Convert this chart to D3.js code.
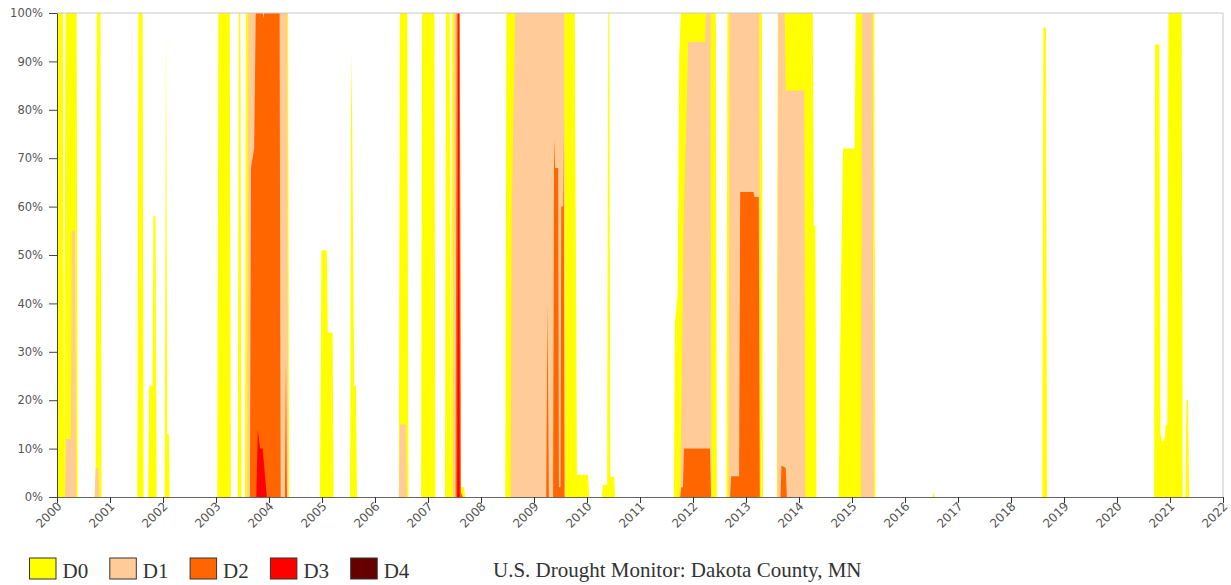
<!DOCTYPE html>
<html>
<head>
<meta charset="utf-8">
<script src="https://cdn.jsdelivr.net/npm/d3@7"></script>
<style>
  html, body { margin: 0; padding: 0; background: #fff; }
  svg { display: block; }
</style>
</head>
<body>
<svg id="chart" width="1231" height="585"></svg>
<script>
// ---------------- DATA (percent of county area, cumulative categories) ----------------
const categories = ["D0", "D1", "D2", "D3", "D4"];
const colors = ["#FFFF00", "#FFCC99", "#FF6600", "#FF0000", "#660000"];
const yearTicks = [2000, 2001, 2002, 2003, 2004, 2005, 2006, 2007, 2008, 2009, 2010,
                   2011, 2012, 2013, 2014, 2015, 2016, 2017, 2018, 2019, 2020, 2021, 2022];
const percentTicks = [0, 10, 20, 30, 40, 50, 60, 70, 80, 90, 100];
const title = "U.S. Drought Monitor: Dakota County, MN";

// [decimal year, percent]
const d0 = [
  [2000.00,100],[2000.11,100],[2000.135,0],[2000.16,100],[2000.37,100],[2000.39,0],
  [2000.71,0],[2000.73,6],[2000.75,100],[2000.82,100],[2000.84,0],
  [2001.515,0],[2001.535,100],[2001.615,100],[2001.635,0],
  [2001.72,0],[2001.74,23],[2001.80,23],[2001.82,58],[2001.86,58],[2001.88,0],
  [2002.03,0],[2002.057,97],[2002.08,13],[2002.11,13],[2002.125,0],
  [2003.025,0],[2003.045,100],[2003.26,100],[2003.28,0],
  [2003.41,0],[2003.43,100],[2003.46,100],[2003.48,0],
  [2003.545,0],[2003.565,100],[2004.36,100],[2004.38,0],
  [2004.96,0],[2004.99,51],[2005.09,51],[2005.11,34],[2005.20,34],[2005.22,0],
  [2005.53,0],[2005.55,92],[2005.57,77],[2005.59,48],[2005.61,23],[2005.64,23],[2005.66,0],
  [2006.45,0],[2006.47,100],[2006.61,100],[2006.63,0],
  [2006.87,0],[2006.89,100],[2007.12,100],[2007.14,0],
  [2007.32,0],[2007.34,100],[2007.41,100],[2007.43,0],[2007.45,100],[2007.60,100],[2007.62,2],[2007.68,2],[2007.70,0],
  [2008.46,0],[2008.48,100],[2009.77,100],[2009.81,4.6],[2010.02,4.6],[2010.04,0],
  [2010.28,0],[2010.30,2.5],[2010.38,2.5],[2010.40,100],[2010.42,100],[2010.44,4.2],[2010.51,4.2],[2010.53,0],
  [2011.64,0],[2011.66,36],[2011.71,42],[2011.74,91],[2011.77,100],[2012.43,100],[2012.45,0],
  [2012.63,0],[2012.65,100],[2013.30,100],[2013.32,0],
  [2013.58,0],[2013.60,100],[2014.26,100],[2014.28,56],[2014.31,56],[2014.33,0],
  [2014.75,0],[2014.77,25],[2014.83,72],[2015.05,72],[2015.07,100],[2015.42,100],[2015.44,0],
  [2016.52,0],[2016.54,1],[2016.56,0],
  [2018.59,0],[2018.61,97],[2018.66,97],[2018.68,0],
  [2020.70,0],[2020.72,93.5],[2020.80,93.5],[2020.82,13],[2020.85,11.4],[2020.90,12],[2020.92,15],[2020.95,15],[2020.97,100],[2021.22,100],[2021.24,0],
  [2021.29,0],[2021.31,20],[2021.34,20],[2021.36,0],
  [2021.45,0]
];

const d1 = [
  [2000.00,0],[2000.15,0],[2000.17,12],[2000.26,12],[2000.28,55],[2000.34,55],[2000.36,0],
  [2000.71,0],[2000.73,6],[2000.78,6],[2000.80,0],
  [2003.59,0],[2003.61,100],[2004.34,100],[2004.36,0],
  [2006.45,0],[2006.47,15],[2006.58,15],[2006.60,0],
  [2007.47,0],[2007.49,100],[2007.60,100],[2007.62,0],
  [2008.56,0],[2008.58,59],[2008.645,100],[2009.57,100],[2009.59,0],
  [2011.74,0],[2011.76,2],[2011.82,55],[2011.91,94],[2012.23,94],[2012.25,100],[2012.33,100],[2012.35,0],
  [2012.67,0],[2012.69,100],[2013.25,100],[2013.27,0],
  [2013.59,0],[2013.61,100],[2013.73,100],[2013.75,84],[2014.10,84],[2014.12,0],
  [2015.17,0],[2015.19,100],[2015.39,100],[2015.41,0],
  [2021.45,0]
];

const d2 = [
  [2000.00,0],
  [2003.64,0],[2003.66,68],[2003.72,72],[2003.75,100],[2003.88,100],[2003.896,98.8],[2003.91,100],[2004.20,100],[2004.22,0],
  [2004.30,0],[2004.32,29],[2004.34,0],
  [2007.52,0],[2007.54,100],[2007.60,100],[2007.62,1],[2007.66,0],
  [2009.23,0],[2009.255,40],[2009.28,0],
  [2009.36,0],[2009.38,74],[2009.40,68],[2009.455,68],[2009.47,2],[2009.50,2],[2009.515,60],[2009.55,60],[2009.56,75],[2009.575,0],
  [2011.76,0],[2011.78,2],[2011.81,2],[2011.83,10],[2012.32,10],[2012.34,0],
  [2012.70,0],[2012.72,4.3],[2012.87,4.3],[2012.89,63],[2013.14,63],[2013.16,62],[2013.24,62],[2013.26,0],
  [2013.65,0],[2013.67,6.5],[2013.75,6],[2013.77,0],
  [2021.45,0]
];

const d3v = [
  [2000.00,0],
  [2003.76,0],[2003.79,14],[2003.83,10],[2003.88,10],[2003.96,0],
  [2007.55,0],[2007.57,100],[2007.585,100],[2007.60,0],
  [2021.45,0]
];

const d4 = [
  [2000.00,0],[2021.45,0]
];

const seriesData = [d0, d1, d2, d3v, d4];

// ---------------- LAYOUT ----------------
const svg = d3.select("#chart");
const margin = { left: 57, right: 8, top: 13, bottom: 88 };
const W = 1231, H = 585;
const plotW = W - margin.left - margin.right;
const plotH = H - margin.top - margin.bottom;

const x = d3.scaleLinear().domain([2000, 2022]).range([margin.left, margin.left + plotW]);
const y = d3.scaleLinear().domain([0, 100]).range([margin.top + plotH, margin.top]);

svg.append("defs").append("clipPath").attr("id", "plotclip")
  .append("rect")
  .attr("x", x(2000)).attr("y", y(100))
  .attr("width", x(2022) - x(2000)).attr("height", y(0) - y(100));

const area = d3.area()
  .x(d => x(d[0]))
  .y0(y(0))
  .y1(d => y(d[1]))
  .curve(d3.curveLinear);

const gAreas = svg.append("g").attr("clip-path", "url(#plotclip)");
seriesData.forEach((data, i) => {
  gAreas.append("path")
    .datum(data)
    .attr("d", area)
    .attr("fill", colors[i])
    .attr("stroke", "none");
});

// frame lines (top and right)
svg.append("line")
  .attr("x1", x(2000)).attr("x2", x(2022))
  .attr("y1", y(100)).attr("y2", y(100))
  .attr("stroke", "#c8c8c8").attr("stroke-width", 1);
svg.append("line")
  .attr("x1", x(2022)).attr("x2", x(2022))
  .attr("y1", y(100)).attr("y2", y(0))
  .attr("stroke", "#c8c8c8").attr("stroke-width", 1);

// Y axis
const yAxis = d3.axisLeft(y)
  .tickValues(percentTicks)
  .tickFormat(d => d + "%")
  .tickSize(8)
  .tickSizeOuter(0)
  .tickPadding(6);
const gy = svg.append("g").attr("transform", `translate(${x(2000)},0)`).call(yAxis);
gy.selectAll("text")
  .attr("font-family", "'DejaVu Sans', Verdana, sans-serif")
  .attr("font-size", 11.5)
  .attr("fill", "#555");
gy.select(".domain").attr("stroke", "#444");
gy.selectAll(".tick line").attr("stroke", "#444");

// X axis
const xAxis = d3.axisBottom(x)
  .tickValues(yearTicks)
  .tickFormat(d3.format("d"))
  .tickSize(6)
  .tickSizeOuter(0);
const gx = svg.append("g").attr("transform", `translate(0,${y(0)})`).call(xAxis);
gx.selectAll("text")
  .attr("font-family", "'DejaVu Sans', Verdana, sans-serif")
  .attr("font-size", 12)
  .attr("fill", "#555")
  .attr("x", 0).attr("y", 0).attr("dy", 0)
  .attr("text-anchor", "end")
  .attr("transform", "translate(5,10) rotate(-45)");
gx.select(".domain").attr("stroke", "#666");
gx.selectAll(".tick line").attr("stroke", "#333");

// Legend
const legend = svg.append("g").attr("transform", "translate(29.5,558)");
categories.forEach((c, i) => {
  const g = legend.append("g").attr("transform", `translate(${i * 80.3},0)`);
  g.append("rect")
    .attr("x", 0).attr("y", 0)
    .attr("width", 26.5).attr("height", 21)
    .attr("fill", colors[i])
    .attr("stroke", "#333").attr("stroke-width", 1);
  g.append("text")
    .attr("x", 33).attr("y", 20)
    .attr("font-family", "'Liberation Serif', 'Times New Roman', serif")
    .attr("font-size", 21)
    .attr("fill", "#333")
    .text(c);
});

// Title
svg.append("text")
  .attr("x", 493).attr("y", 577)
  .attr("font-family", "'Liberation Serif', 'Times New Roman', serif")
  .attr("font-size", 21)
  .attr("fill", "#333")
  .text(title);
</script>
</body>
</html>
